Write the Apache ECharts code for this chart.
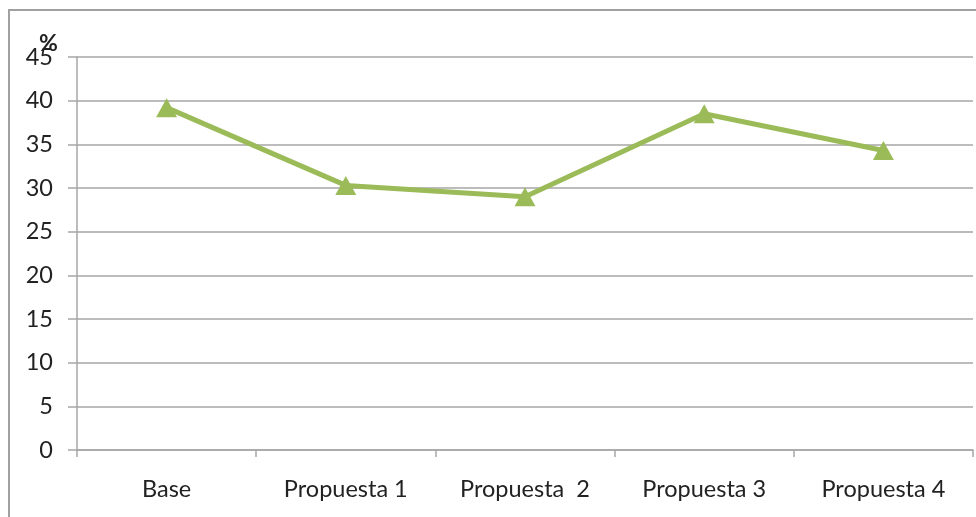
<!DOCTYPE html>
<html>
<head>
<meta charset="utf-8">
<script src="https://cdn.jsdelivr.net/npm/echarts@6/dist/echarts.min.js"></script>
<style>
  html, body { margin: 0; padding: 0; background: #fff; }
  #chart { width: 976px; height: 517px; }
</style>
</head>
<body>
<div id="chart"></div>
<script>
// datos
var categorias = ['Base', 'Propuesta 1', 'Propuesta  2', 'Propuesta 3', 'Propuesta 4'];
var valores = [39.2, 30.3, 29.0, 38.5, 34.3];
var ejeY = { min: 0, max: 45, interval: 5 };
var unidad = '%';

var gris = '#a6a6a6';
var verde = '#9bbb59';
var fuente = 'Lato';

var chart = echarts.init(document.getElementById('chart'));
chart.setOption({
  animation: false,
  backgroundColor: '#fff',
  graphic: [{
    type: 'rect',
    shape: { x: 9, y: 10, width: 1000, height: 600 },
    style: { fill: 'none', stroke: '#a0a0a0', lineWidth: 2 },
    silent: true
  }, {
    type: 'text',
    left: 39,
    top: 32,
    z: 10,
    style: { text: unidad, fill: '#222', font: 'bold 23px Lato' }
  }],
  grid: { left: 77, right: 3, top: 57, bottom: 67 },
  xAxis: {
    type: 'category',
    data: categorias,
    boundaryGap: true,
    axisLine: { lineStyle: { color: gris, width: 1.5 } },
    axisTick: { show: true, length: 7, lineStyle: { color: gris, width: 1.5 } },
    axisLabel: { color: '#222', fontFamily: fuente, fontSize: 23.5, margin: 27 },
    splitLine: { show: false }
  },
  yAxis: {
    type: 'value',
    min: ejeY.min,
    max: ejeY.max,
    interval: ejeY.interval,
    axisLine: { show: true, lineStyle: { color: gris, width: 1.5 } },
    axisTick: { show: true, length: 9, lineStyle: { color: gris, width: 1.5 } },
    axisLabel: { color: '#222', fontFamily: fuente, fontSize: 23.5, margin: 24 },
    splitLine: { show: true, lineStyle: { color: gris, width: 1.5 } }
  },
  series: [{
    type: 'line',
    data: valores,
    symbol: 'triangle',
    symbolSize: [21, 19],
    lineStyle: { color: verde, width: 5 },
    itemStyle: { color: verde },
    z: 5
  }]
});
</script>
</body>
</html>
